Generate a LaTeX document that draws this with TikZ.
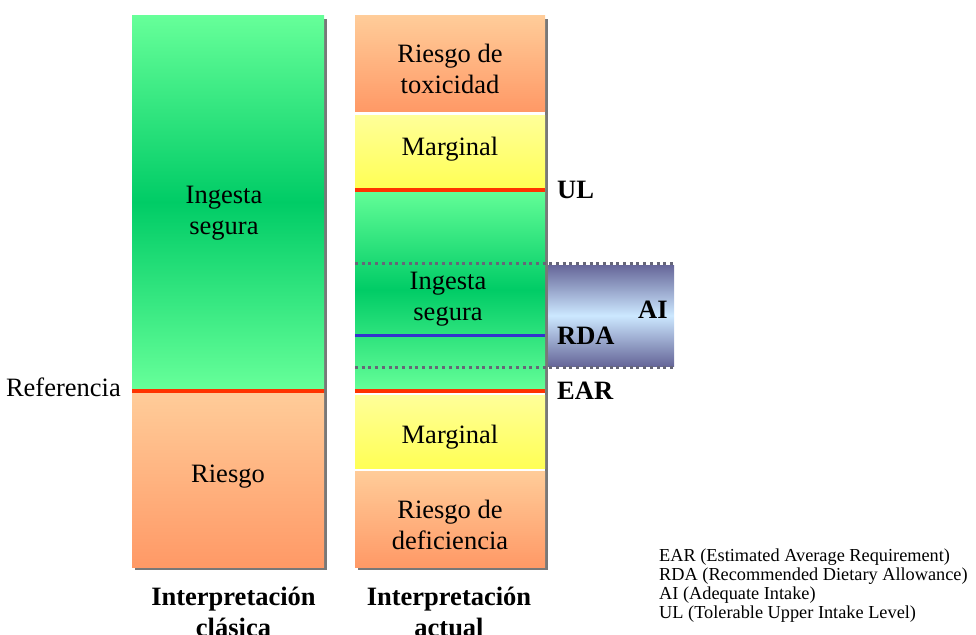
\documentclass[tikz,border=0pt]{standalone}
\usepackage{fontspec}
\setmainfont{Liberation Serif}
\definecolor{greenlight}{RGB}{102,255,153}
\definecolor{greendark}{RGB}{0,204,102}
\definecolor{orangelight}{RGB}{255,204,153}
\definecolor{orangedark}{RGB}{255,153,102}
\definecolor{yellowlight}{RGB}{255,255,153}
\definecolor{yellowdark}{RGB}{255,255,85}
\definecolor{limitred}{RGB}{255,51,0}
\definecolor{rdablue}{RGB}{51,51,204}
\definecolor{aiedge}{RGB}{102,102,153}
\definecolor{aimid}{RGB}{204,232,255}
\definecolor{dotgray}{RGB}{102,102,120}
\definecolor{shadowgray}{RGB}{120,120,120}
\tikzset{
  big/.style={font=\fontsize{26.5}{30.5}\selectfont, align=center, inner sep=0},
  title/.style={font=\fontsize{26.5}{30.5}\selectfont\bfseries, align=center, inner sep=0, anchor=north},
  limit/.style={font=\fontsize{26.5}{30.5}\selectfont\bfseries, inner sep=0, anchor=west},
  key/.style={font=\fontsize{18.3}{18.7}\selectfont, align=left, inner sep=0, anchor=north west},
  redline/.style={limitred, line width=4pt},
  dotline/.style={dotgray, line width=3pt, dash pattern=on 3pt off 3.7pt}
}
\begin{document}
\begin{tikzpicture}[x=1pt, y=-1pt]
	\useasboundingbox (0,0) rectangle (976,634);
	% columna clasica
	\fill[shadowgray] (135,19) rectangle ++(192,551);
	\shade[top color=greenlight, bottom color=greenlight, middle color=greendark] (132,16) rectangle ++(192,372);
	\shade[top color=orangelight, bottom color=orangedark] (132,393) rectangle ++(192,174);
	\draw[redline] (132,390.5) -- (324,390.5);
	% columna actual
	\fill[shadowgray] (358,19) rectangle ++(190,551);
	\fill[white] (355,16) rectangle ++(190,551);
	\shade[top color=orangelight, bottom color=orangedark] (355,16) rectangle ++(190,95);
	\shade[top color=yellowlight, bottom color=yellowdark] (355,115) rectangle ++(190,73);
	\shade[top color=greenlight, bottom color=greenlight, middle color=greendark] (355,188) rectangle ++(190,203);
	\shade[top color=aiedge, bottom color=aiedge, middle color=aimid] (548,265) rectangle ++(126,101);
	\draw[redline] (355,189.5) -- (545,189.5);
	\draw[dotline] (355,263.5) -- (675,263.5);
	\draw[dotline] (355,367.5) -- (675,367.5);
	\draw[rdablue, line width=3pt] (355,335) -- (545,335);
	\draw[redline] (355,391) -- (545,391);
	\shade[top color=yellowlight, bottom color=yellowdark] (355,395) rectangle ++(190,73);
	\shade[top color=orangelight, bottom color=orangedark] (355,471) rectangle ++(190,96);

	\node[big] (safeA) at (224,213) {Ingesta\\segura};
	\node[big] (riskA) at (228,477) {Riesgo};
	\node[big, anchor=east] (ref) at (121,387) {Referencia};
	\node[big] (tox) at (450,69) {Riesgo de\\toxicidad};
	\node[big] (margA) at (450,149) {Marginal};
	\node[big] (safeB) at (448,299) {Ingesta\\segura};
	\node[big] (margB) at (450,437) {Marginal};
	\node[big] (defic) at (450,525) {Riesgo de\\deficiencia};
	\node[limit] (ul) at (557,190) {UL};
	\node[limit] (ai) at (638,310) {AI};
	\node[limit] (rda) at (557,335.5) {RDA};
	\node[limit] (ear) at (557,391) {EAR};
	\node[title] (classic) at (233.5,587) {Interpretación\\clásica};
	\node[title] (current) at (449,587) {Interpretación\\actual};
	\node[key] (legend) at (659,549) {EAR (Estimated Average Requirement)\\RDA (Recommended Dietary Allowance)\\AI (Adequate Intake)\\UL (Tolerable Upper Intake Level)};
\end{tikzpicture}
\end{document}
